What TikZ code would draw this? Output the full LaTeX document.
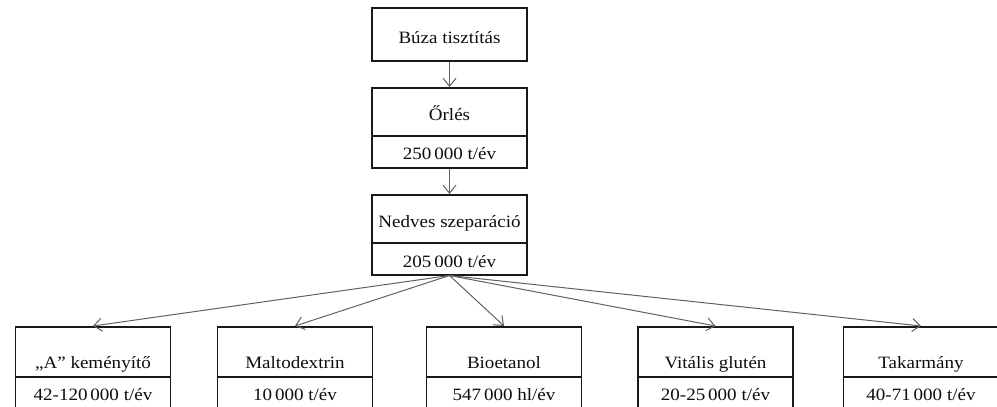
\documentclass[tikz,border=0pt]{standalone}
\usepackage{fontspec}
\setmainfont[FakeStretch=1.1]{Liberation Serif}
\usetikzlibrary{arrows.meta}
\begin{document}
\begin{tikzpicture}[x=1pt,y=-1pt,
  boxs/.style={draw=black!90, line width=1.5pt, minimum width=155pt, inner sep=0pt, anchor=north},
  lbl/.style={anchor=base, inner sep=0pt, text=black!95, font=\fontsize{17.3}{20}\selectfont},
  conn/.style={draw=black!62, line width=1pt, -{Straight Barb[length=8pt,width=13pt]}},
  divline/.style={draw=black!90, line width=1.5pt}]
\useasboundingbox (0,0) rectangle (997,407);
\clip (0,0) rectangle (997,407);
% upper chain
\node[boxs, minimum height=53pt] (b1) at (449.5,7) {};
\node[boxs, minimum height=80pt] (b2) at (449.5,87) {};
\node[boxs, minimum height=80pt] (b3) at (449.5,194) {};
\draw[divline] (b2.west |- 0,136) -- (b2.east |- 0,136);
\draw[divline] (b3.west |- 0,243) -- (b3.east |- 0,243);
\node[lbl] (t1) at (449.5,43) {Búza tisztítás};
\node[lbl] (t2) at (449.5,120) {Őrlés};
\node[lbl] (v2) at (449.5,159) {250\,000 t/év};
\node[lbl] (t3) at (449.5,227) {Nedves szeparáció};
\node[lbl] (v3) at (449.5,267) {205\,000 t/év};
% lower row
\foreach \n/\x in {c1/93, c2/295, c3/504, c4/715.5, c5/921}{
  \node[boxs, minimum height=100pt] (\n) at (\x,326) {};
  \draw[divline] (\n.west |- 0,377) -- (\n.east |- 0,377);
}
\node[lbl] (l1) at (93,368) {„A” keményítő};
\node[lbl] (w1) at (93,400) {42-120\,000 t/év};
\node[lbl] (l2) at (295,368) {Maltodextrin};
\node[lbl] (w2) at (295,400) {10\,000 t/év};
\node[lbl] (l3) at (504,368) {Bioetanol};
\node[lbl] (w3) at (504,400) {547\,000 hl/év};
\node[lbl] (l4) at (715.5,368) {Vitális glutén};
\node[lbl] (w4) at (715.5,400) {20-25\,000 t/év};
\node[lbl] (l5) at (921,368) {Takarmány};
\node[lbl] (w5) at (921,400) {40-71\,000 t/év};
% connectors
\draw[conn] (b1.south) -- (b2.north);
\draw[conn] (b2.south) -- (b3.north);
\foreach \n in {c1,c2,c3,c4,c5}{
  \draw[conn] (b3.south) -- (\n.north);
}
\end{tikzpicture}
\end{document}
